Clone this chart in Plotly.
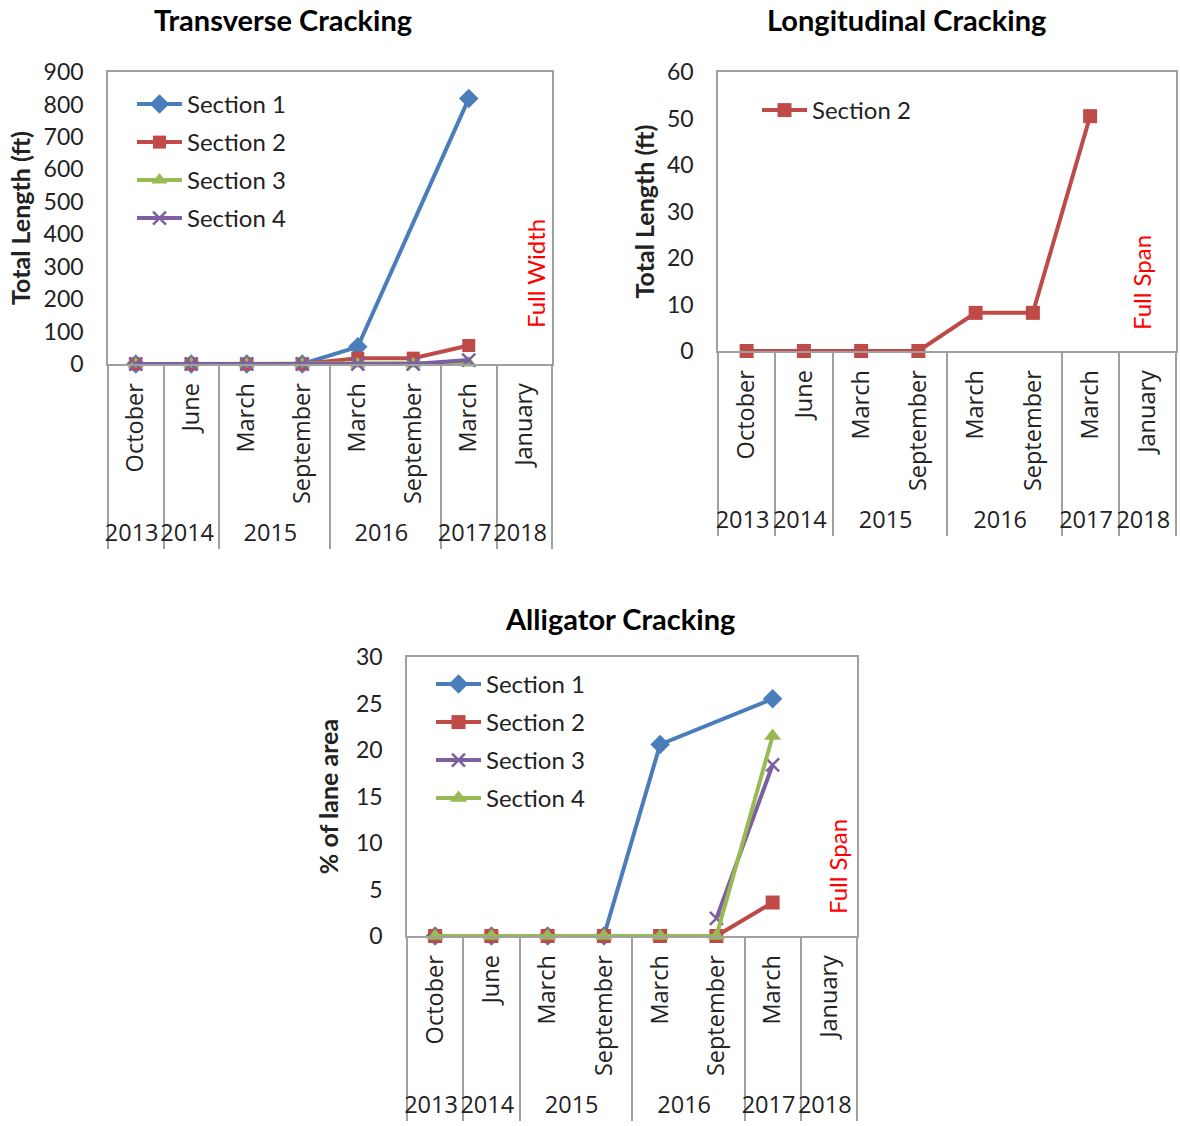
import plotly.graph_objects as go

W, H = 1180, 1126

# ---- data ----
months = ["October", "June", "March", "September", "March", "September", "March", "January"]
years = ["2013", "2014", "2015", "2015", "2016", "2016", "2017", "2018"]

trans_s1 = [0, 0, 0, 0, 53, None, 818, None]
trans_s2 = [0, 0, 0, 0, 18, 18, 57, None]
trans_s3 = [0, 0, 0, 0, 0, 0, 3, None]
trans_s4 = [0, 0, 0, 0, 0, 0, 12, None]

long_s2 = [0, 0, 0, 0, 8.2, 8.2, 50.5, None]

allig_s1 = [0, 0, 0, 0, 20.6, None, 25.5, None]
allig_s2 = [0, 0, 0, 0, 0, 0, 3.6, None]
allig_s3 = [None, None, None, None, None, 1.9, 18.4, None]
allig_s4 = [0, 0, 0, 0, 0, 0, 21.5, None]

FONT = "Lato"
XFONT = "Open Sans"
FS = 23
FSX = 23.5
TXT = "#222222"
BORDER = "#A0A0A0"

BLUE, RED, GREEN, PURPLE = "#4A7EBB", "#BE4B48", "#98B954", "#7D60A0"


def px(x):
    return x / W


def py(y):
    return 1 - y / H


fig = go.Figure()


def add(name, yvals, xa, ya, leg, color, symbol, size, group):
    mk = dict(color=color, symbol=symbol, size=size)
    if symbol == "x-thin":
        mk["line"] = dict(color=color, width=2.5)
    fig.add_trace(go.Scatter(
        x=[years, months], y=yvals, name=name, mode="lines+markers",
        line=dict(color=color, width=4), marker=mk, connectgaps=True,
        cliponaxis=False, xaxis=xa, yaxis=ya, legend=leg, legendgroup=group,
    ))


# Chart 1 - Transverse Cracking
add("Section 1", trans_s1, "x", "y", "legend", BLUE, "diamond", 15, "a1")
add("Section 2", trans_s2, "x", "y", "legend", RED, "square", 13, "a2")
add("Section 3", trans_s3, "x", "y", "legend", GREEN, "triangle-up", 14, "a3")
add("Section 4", trans_s4, "x", "y", "legend", PURPLE, "x-thin", 13, "a4")

# Chart 2 - Longitudinal Cracking
add("Section 2", long_s2, "x2", "y2", "legend2", RED, "square", 14, "b")

# Chart 3 - Alligator Cracking (Section 3 purple x, Section 4 green triangle)
add("Section 1", allig_s1, "x3", "y3", "legend3", BLUE, "diamond", 15, "c1")
add("Section 2", allig_s2, "x3", "y3", "legend3", RED, "square", 14, "c2")
add("Section 3", allig_s3, "x3", "y3", "legend3", PURPLE, "x-thin", 13, "c3")
add("Section 4", allig_s4, "x3", "y3", "legend3", GREEN, "triangle-up", 15, "c4")


def xax(dom, anchor):
    return dict(
        type="multicategory", domain=dom, anchor=anchor, range=[-0.5, 7.5],
        automargin=False,
        showline=True, mirror=True, linecolor=BORDER, linewidth=1.5,
        showgrid=False, zeroline=False, ticks="", tickangle=-90,
        showdividers=True, dividercolor=BORDER, dividerwidth=1.5,
        tickfont=dict(family=XFONT, size=FSX, color=TXT), ticklabelstandoff=8,
    )


def yax(dom, anchor, rng, dtick, title, standoff):
    return dict(
        domain=dom, anchor=anchor, range=rng, dtick=dtick, automargin=False,
        showline=True, mirror=True, linecolor=BORDER, linewidth=1.5,
        showgrid=False, zeroline=False, ticks="",
        tickfont=dict(family=FONT, size=FS, color=TXT), ticklabelstandoff=18,
        title=dict(text="<b>" + title + "</b>", standoff=standoff,
                   font=dict(family=FONT, size=25, color=TXT)),
    )


def legend(x, y):
    return dict(
        x=px(x), y=py(y), xanchor="left", yanchor="top",
        bgcolor="rgba(0,0,0,0)", font=dict(family=FONT, size=24, color=TXT),
        tracegroupgap=3.8, itemwidth=45,
    )


annotations = [
    dict(text="<b>Transverse Cracking</b>", x=px(283), y=py(20)),
    dict(text="<b>Longitudinal Cracking</b>", x=px(906), y=py(20)),
    dict(text="<b>Alligator Cracking</b>", x=px(620), y=py(618)),
]
for a in annotations:
    a.update(xref="paper", yref="paper", xanchor="center", yanchor="middle",
             showarrow=False, font=dict(family=FONT, size=29, color="#000000"))

for t, x, y in [("Full Width", 535, 274), ("Full Span", 1142, 283), ("Full Span", 837, 867)]:
    annotations.append(dict(
        text=t, x=px(x), y=py(y), xref="paper", yref="paper", textangle=-90,
        xanchor="center", yanchor="middle", showarrow=False,
        font=dict(family=FONT, size=24, color="#FF0000"),
    ))

fig.update_layout(
    width=W, height=H, margin=dict(l=0, r=0, t=0, b=0, autoexpand=False),
    paper_bgcolor="white", plot_bgcolor="white",
    xaxis=xax([px(108), px(552)], "y"),
    yaxis=yax([py(364), py(72)], "x", [0, 900], 100, "Total Length (ft)", 6),
    xaxis2=xax([px(718), px(1176)], "y2"),
    yaxis2=yax([py(351), py(72)], "x2", [0, 60], 10, "Total Length (ft)", 5),
    xaxis3=xax([px(407), px(857)], "y3"),
    yaxis3=yax([py(936), py(657)], "x3", [0, 30], 5, "% of lane area", 10),
    legend=legend(132, 82),
    legend2=legend(757, 88),
    legend3=legend(431, 662),
    annotations=annotations,
    showlegend=True,
)

fig.write_html(
    "out.html",
    config={"displayModeBar": False},
    post_script="document.body.style.margin='0';document.body.style.overflow='hidden';",
)
